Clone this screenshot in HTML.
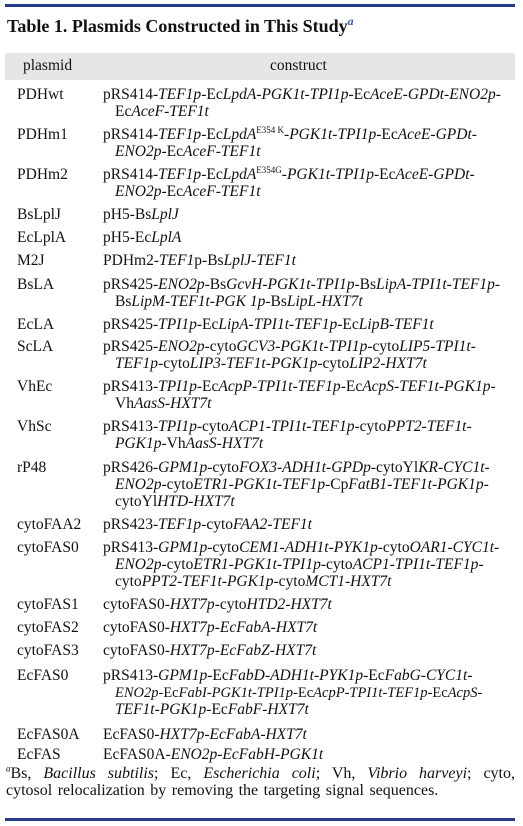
<!DOCTYPE html>
<html><head><meta charset="utf-8"><style>
body{margin:0;width:523px;height:826px;background:#fff;position:relative;font-family:"Liberation Serif",serif;color:#111;overflow:hidden}
.r{position:absolute;font-size:15.5px;line-height:18px;white-space:nowrap}
.p{left:17px}.c{left:103px}.i{left:115px}
sup{font-size:9px;line-height:0}
</style></head><body>
<div style="position:absolute;left:5px;top:4px;width:510px;height:3px;background:#2a3a8c"></div>
<div class="r" style="left:7px;top:15px;font-size:18px;font-weight:bold;line-height:22px">Table 1. Plasmids Constructed in This Study<sup style="color:#3a5ab0;font-style:italic;font-size:12px">a</sup></div>
<div style="position:absolute;left:5px;top:53px;width:510px;height:27px;background:#e6e6e6"></div>
<div class="r" style="left:23px;top:57px">plasmid</div>
<div class="r" style="left:270px;top:57px">construct</div>

<div class="r p" style="top:86px">PDHwt</div>
<div class="r c" style="top:86px">pRS414-<i>TEF1p</i>-Ec<i>LpdA</i>-<i>PGK1t</i>-<i>TPI1p</i>-Ec<i>AceE</i>-<i>GPDt</i>-<i>ENO2p</i>-</div>
<div class="r i" style="top:103px">Ec<i>AceF</i>-<i>TEF1t</i></div>
<div class="r p" style="top:126px">PDHm1</div>
<div class="r c" style="top:126px">pRS414-<i>TEF1p</i>-Ec<i>LpdA</i><sup>E354 K</sup>-<i>PGK1t</i>-<i>TPI1p</i>-Ec<i>AceE</i>-<i>GPDt</i>-</div>
<div class="r i" style="top:143px"><i>ENO2p</i>-Ec<i>AceF</i>-<i>TEF1t</i></div>
<div class="r p" style="top:166px">PDHm2</div>
<div class="r c" style="top:166px">pRS414-<i>TEF1p</i>-Ec<i>LpdA</i><sup>E354G</sup>-<i>PGK1t</i>-<i>TPI1p</i>-Ec<i>AceE</i>-<i>GPDt</i>-</div>
<div class="r i" style="top:183px"><i>ENO2p</i>-Ec<i>AceF</i>-<i>TEF1t</i></div>
<div class="r p" style="top:206px">BsLplJ</div>
<div class="r c" style="top:206px">pH5-Bs<i>LplJ</i></div>
<div class="r p" style="top:229px">EcLplA</div>
<div class="r c" style="top:229px">pH5-Ec<i>LplA</i></div>
<div class="r p" style="top:252px">M2J</div>
<div class="r c" style="top:252px">PDHm2-<i>TEF1</i>p-Bs<i>LplJ</i>-<i>TEF1t</i></div>
<div class="r p" style="top:276px">BsLA</div>
<div class="r c" style="top:276px">pRS425-<i>ENO2p</i>-Bs<i>GcvH</i>-<i>PGK1t</i>-<i>TPI1p</i>-Bs<i>LipA</i>-<i>TPI1t</i>-<i>TEF1p</i>-</div>
<div class="r i" style="top:293px">Bs<i>LipM</i>-<i>TEF1t</i>-<i>PGK 1p</i>-Bs<i>LipL</i>-<i>HXT7t</i></div>
<div class="r p" style="top:316px">EcLA</div>
<div class="r c" style="top:316px">pRS425-<i>TPI1p</i>-Ec<i>LipA</i>-<i>TPI1t</i>-<i>TEF1p</i>-Ec<i>LipB</i>-<i>TEF1t</i></div>
<div class="r p" style="top:338px">ScLA</div>
<div class="r c" style="top:338px">pRS425-<i>ENO2p</i>-cyto<i>GCV3</i>-<i>PGK1t</i>-<i>TPI1p</i>-cyto<i>LIP5</i>-<i>TPI1t</i>-</div>
<div class="r i" style="top:355px"><i>TEF1p</i>-cyto<i>LIP3</i>-<i>TEF1t</i>-<i>PGK1p</i>-cyto<i>LIP2</i>-<i>HXT7t</i></div>
<div class="r p" style="top:378px">VhEc</div>
<div class="r c" style="top:378px">pRS413-<i>TPI1p</i>-Ec<i>AcpP</i>-<i>TPI1t</i>-<i>TEF1p</i>-Ec<i>AcpS</i>-<i>TEF1t</i>-<i>PGK1p</i>-</div>
<div class="r i" style="top:395px">Vh<i>AasS</i>-<i>HXT7t</i></div>
<div class="r p" style="top:418px">VhSc</div>
<div class="r c" style="top:418px">pRS413-<i>TPI1p</i>-cyto<i>ACP1</i>-<i>TPI1t</i>-<i>TEF1p</i>-cyto<i>PPT2</i>-<i>TEF1t</i>-</div>
<div class="r i" style="top:435px"><i>PGK1p</i>-Vh<i>AasS</i>-<i>HXT7t</i></div>
<div class="r p" style="top:459px">rP48</div>
<div class="r c" style="top:459px">pRS426-<i>GPM1p</i>-cyto<i>FOX3</i>-<i>ADH1t</i>-<i>GPDp</i>-cytoYl<i>KR</i>-<i>CYC1t</i>-</div>
<div class="r i" style="top:476px"><i>ENO2p</i>-cyto<i>ETR1</i>-<i>PGK1t</i>-<i>TEF1p</i>-Cp<i>FatB1</i>-<i>TEF1t</i>-<i>PGK1p</i>-</div>
<div class="r i" style="top:493px">cytoYl<i>HTD</i>-<i>HXT7t</i></div>
<div class="r p" style="top:516px">cytoFAA2</div>
<div class="r c" style="top:516px">pRS423-<i>TEF1p</i>-cyto<i>FAA2</i>-<i>TEF1t</i></div>
<div class="r p" style="top:539px">cytoFAS0</div>
<div class="r c" style="top:539px">pRS413-<i>GPM1p</i>-cyto<i>CEM1</i>-<i>ADH1t</i>-<i>PYK1p</i>-cyto<i>OAR1</i>-<i>CYC1t</i>-</div>
<div class="r i" style="top:556px"><i>ENO2p</i>-cyto<i>ETR1</i>-<i>PGK1t</i>-<i>TPI1p</i>-cyto<i>ACP1</i>-<i>TPI1t</i>-<i>TEF1p</i>-</div>
<div class="r i" style="top:573px">cyto<i>PPT2</i>-<i>TEF1t</i>-<i>PGK1p</i>-cyto<i>MCT1</i>-<i>HXT7t</i></div>
<div class="r p" style="top:596px">cytoFAS1</div>
<div class="r c" style="top:596px">cytoFAS0-<i>HXT7p</i>-cyto<i>HTD2</i>-<i>HXT7t</i></div>
<div class="r p" style="top:619px">cytoFAS2</div>
<div class="r c" style="top:619px">cytoFAS0-<i>HXT7p</i>-<i>EcFabA</i>-<i>HXT7t</i></div>
<div class="r p" style="top:642px">cytoFAS3</div>
<div class="r c" style="top:642px">cytoFAS0-<i>HXT7p</i>-<i>EcFabZ</i>-<i>HXT7t</i></div>
<div class="r p" style="top:667px">EcFAS0</div>
<div class="r c" style="top:667px">pRS413-<i>GPM1p</i>-Ec<i>FabD</i>-<i>ADH1t</i>-<i>PYK1p</i>-Ec<i>FabG</i>-<i>CYC1t</i>-</div>
<div class="r i" style="top:684px;font-size:14.5px"><i>ENO2p</i>-Ec<i>FabI</i>-<i>PGK1t</i>-<i>TPI1p</i>-Ec<i>AcpP</i>-<i>TPI1t</i>-<i>TEF1p</i>-Ec<i>AcpS</i>-</div>
<div class="r i" style="top:701px"><i>TEF1t</i>-<i>PGK1p</i>-Ec<i>FabF</i>-<i>HXT7t</i></div>
<div class="r p" style="top:726px">EcFAS0A</div>
<div class="r c" style="top:726px">EcFAS0-<i>HXT7p</i>-<i>EcFabA</i>-<i>HXT7t</i></div>
<div class="r p" style="top:746px">EcFAS</div>
<div class="r c" style="top:746px">EcFAS0A-<i>ENO2p</i>-<i>EcFabH</i>-<i>PGK1t</i></div>

<div class="r" style="left:6px;top:764px;width:509px;font-size:16px;line-height:20px;white-space:normal;text-align:justify;text-align-last:justify"><sup style="font-style:italic">a</sup>Bs, <i>Bacillus subtilis</i>; Ec, <i>Escherichia coli</i>; Vh, <i>Vibrio harveyi</i>; cyto,</div>
<div class="r" style="left:6px;top:781px;font-size:16px;line-height:20px;word-spacing:1.5px">cytosol relocalization by removing the targeting signal sequences.</div>
<div style="position:absolute;left:5px;top:818px;width:510px;height:3px;background:#2a3a8c"></div>
</body></html>
